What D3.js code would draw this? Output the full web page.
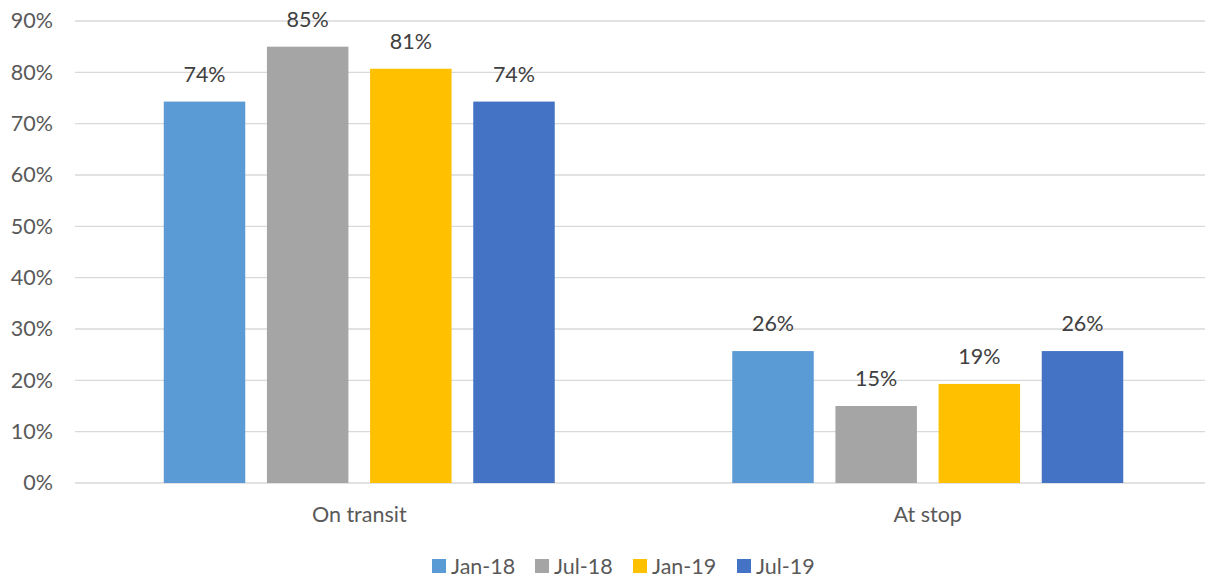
<!DOCTYPE html>
<html>
<head>
<meta charset="utf-8">
<script src="https://cdn.jsdelivr.net/npm/d3@7"></script>
<style>
  body { margin: 0; background: #fff; }
  text { font-family: Lato, "Open Sans", sans-serif; fill: #595959; }
</style>
</head>
<body>
<script>
// chart data
var categories = ["On transit", "At stop"];
var seriesNames = ["Jan-18", "Jul-18", "Jan-19", "Jul-19"];
var seriesColors = ["#5B9BD5", "#A5A5A5", "#FFC000", "#4472C4"];
var onTransit = [74.3, 85.0, 80.7, 74.3];
var atStop = [25.7, 15.0, 19.3, 25.7];
var yTicks = [0, 10, 20, 30, 40, 50, 60, 70, 80, 90];

var values = [onTransit, atStop];

const w = 1210, h = 580;
const plotLeft = 75, plotRight = 1212, plotTop = 21, plotBottom = 483;
const fs = "21.5px";

const svg = d3.select("body").append("svg")
    .attr("width", w)
    .attr("height", h);

const x0 = d3.scaleBand().domain(categories).range([plotLeft, plotRight]).paddingInner(0).paddingOuter(0);
const groupW = 391;
const x1 = d3.scaleBand().domain(seriesNames).range([0, groupW]).paddingInner(0.21).paddingOuter(0);
const y = d3.scaleLinear().domain([0, 90]).range([plotBottom, plotTop]);

// gridlines
svg.append("g")
    .selectAll("line")
    .data(yTicks).enter()
    .append("line")
    .attr("x1", plotLeft)
    .attr("x2", 1205)
    .attr("y1", d => y(d))
    .attr("y2", d => y(d))
    .attr("stroke", "#D9D9D9")
    .attr("stroke-width", 1.3);

// y axis labels
const yAxis = d3.axisLeft(y).tickValues(yTicks).tickFormat(d => d + "%").tickSize(0).tickPadding(0);
svg.append("g")
    .attr("transform", "translate(53,0)")
    .call(yAxis)
    .call(g => g.select(".domain").remove())
    .selectAll("text")
    .attr("font-size", fs)
    .style("font-family", "Lato, sans-serif")
    .attr("fill", "#595959");

// bars
const groups = svg.append("g")
    .selectAll("g")
    .data(categories).enter()
    .append("g")
    .attr("transform", d => "translate(" + (x0(d) + (x0.bandwidth() - groupW) / 2) + ",0)");

groups.selectAll("rect")
    .data((d, i) => values[i].map((v, j) => ({ name: seriesNames[j], v: v, c: seriesColors[j] })))
    .enter()
    .append("rect")
    .attr("x", d => x1(d.name))
    .attr("y", d => y(d.v))
    .attr("width", x1.bandwidth())
    .attr("height", d => y(0) - y(d.v))
    .attr("fill", d => d.c);

groups.selectAll("text.lbl")
    .data((d, i) => values[i].map((v, j) => ({ name: seriesNames[j], v: v })))
    .enter()
    .append("text")
    .attr("class", "lbl")
    .attr("x", d => x1(d.name) + x1.bandwidth() / 2)
    .attr("y", d => y(d.v) - 20)
    .attr("text-anchor", "middle")
    .attr("font-size", fs)
    .style("fill", "#404040")
    .text(d => Math.round(d.v) + "%");

// category axis
const xAxis = d3.axisBottom(x0).tickSize(0).tickPadding(0);
svg.append("g")
    .attr("transform", "translate(0,507)")
    .call(xAxis)
    .call(g => g.select(".domain").remove())
    .selectAll("text")
    .attr("font-size", fs)
    .style("font-family", "Lato, sans-serif")
    .attr("fill", "#595959");

// legend
const legendX = [432, 535, 633, 737];
const legend = svg.append("g")
    .selectAll("g")
    .data(seriesNames).enter()
    .append("g")
    .attr("transform", (d, i) => "translate(" + legendX[i] + ",559)");
legend.append("rect")
    .attr("width", 14)
    .attr("height", 14)
    .attr("fill", (d, i) => seriesColors[i]);
legend.append("text")
    .attr("x", 19)
    .attr("y", 14.5)
    .attr("font-size", fs)
    .text(d => d);
</script>
</body>
</html>
